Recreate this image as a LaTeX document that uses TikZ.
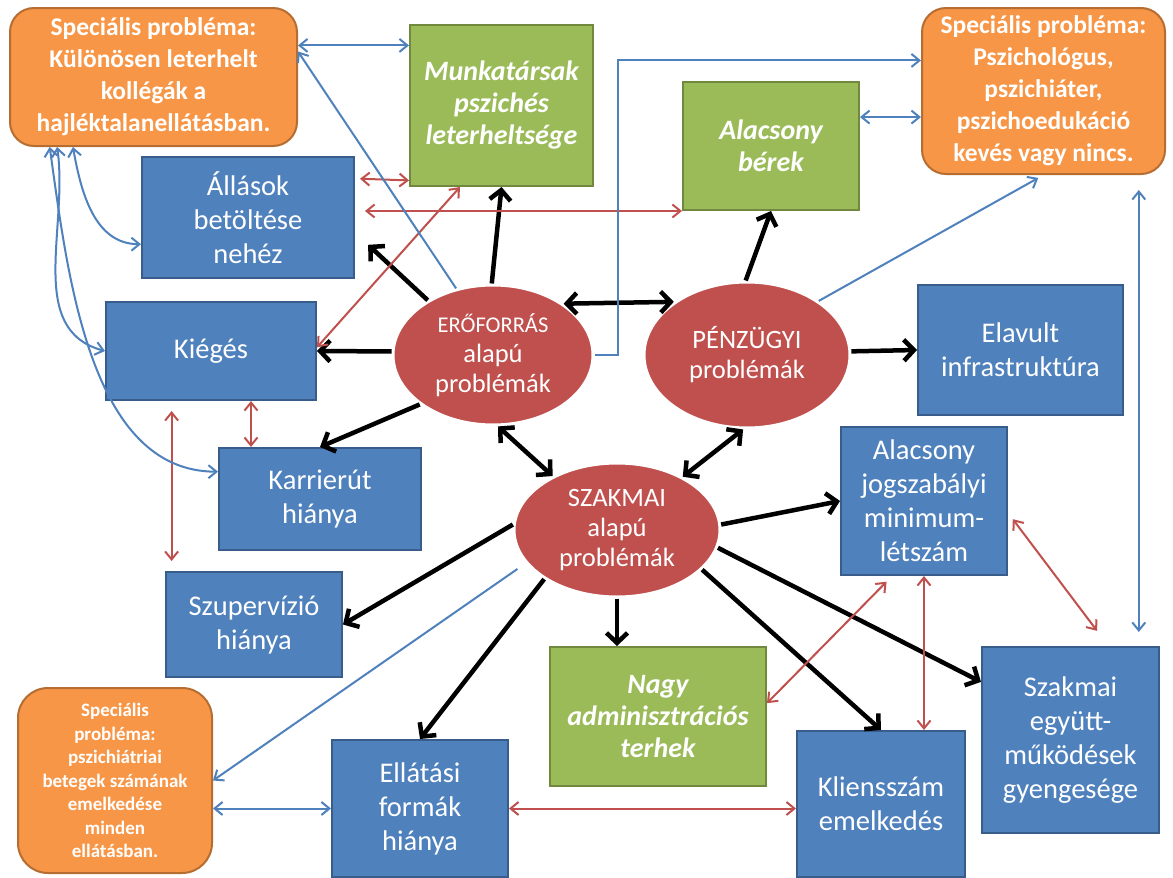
\documentclass[tikz,border=0pt]{standalone}
\usepackage{fontspec}
\setmainfont{Carlito}
\usetikzlibrary{arrows.meta, shapes.geometric}

\definecolor{boxblue}{HTML}{4F81BD}
\definecolor{boxblueline}{HTML}{385D8A}
\definecolor{boxgreen}{HTML}{9BBB59}
\definecolor{boxgreenline}{HTML}{71893F}
\definecolor{boxorange}{HTML}{F79646}
\definecolor{boxorangeline}{HTML}{B66D31}
\definecolor{ovalred}{HTML}{C0504D}

\begin{document}
\begin{tikzpicture}[x=1pt, y=-1pt,
    bluebox/.style={draw=boxblueline, fill=boxblue, line width=2pt, text=white,
        align=center, inner sep=0pt, font=\fontsize{28.5}{34}\selectfont},
    greenbox/.style={bluebox, draw=boxgreenline, fill=boxgreen,
        font=\fontsize{28}{32}\selectfont\bfseries\itshape},
    orangebox/.style={bluebox, draw=boxorangeline, fill=boxorange, rounded corners=24pt,
        font=\fontsize{25.5}{32}\selectfont\bfseries},
    redoval/.style={ellipse, draw=white, fill=ovalred, line width=3pt, text=white,
        align=center, inner sep=0pt, font=\fontsize{26.5}{30}\selectfont},
    main/.style={line width=4.5pt, -{Straight Barb[length=10pt,width=21pt]}},
    both/.style={main, {Straight Barb[length=10pt,width=21pt]}-{Straight Barb[length=10pt,width=21pt]}},
    relred/.style={ovalred, line width=2pt,
        {Straight Barb[length=8pt,width=13pt]}-{Straight Barb[length=8pt,width=13pt]}},
    relblue/.style={relred, boxblue},
    oneblue/.style={boxblue, line width=2pt, -{Straight Barb[length=8pt,width=13pt]}}
]

% canvas
\fill[white] (0,0) rectangle (1173,878);
\useasboundingbox (0,0) rectangle (1173,878);

% =========================
% special problems
% =========================
\node[orangebox, minimum width=287pt, minimum height=138pt] (spec1) at (153.5,77)
    {Speciális probléma:\\Különösen leterhelt\\kollégák a\\hajléktalanellátásban.};
\node[orangebox, minimum width=243pt, minimum height=166pt] (spec2) at (1043.5,91)
    {Speciális probléma:\\Pszichológus,\\pszichiáter,\\pszichoedukáció\\kevés vagy nincs.};
\node[orangebox, rounded corners=30pt, minimum width=194pt, minimum height=185pt,
    font=\fontsize{19}{23.5}\selectfont\bfseries] (spec3) at (115,780.5)
    {Speciális\\probléma:\\pszichiátriai\\betegek számának\\emelkedése\\minden\\ellátásban.};

% =========================
% green boxes
% =========================
\node[greenbox, minimum width=183pt, minimum height=161pt] (staff) at (501.5,105.5)
    {Munkatársak\\pszichés\\leterheltsége};
\node[greenbox, minimum width=176pt, minimum height=128pt] (wages) at (771,146)
    {Alacsony\\bérek};
\node[greenbox, minimum width=216pt, minimum height=139pt] (admin) at (658,716.5)
    {Nagy\\adminisztrációs\\terhek};

% =========================
% blue boxes
% =========================
\node[bluebox, minimum width=212pt, minimum height=121pt] (jobs) at (248,217.5)
    {Állások\\betöltése\\nehéz};
\node[bluebox, minimum width=210pt, minimum height=98pt] (burnout) at (211,351) {Kiégés};
\node[bluebox, minimum width=205pt, minimum height=130pt] (infra) at (1020.5,350)
    {Elavult\\infrastruktúra};
\node[bluebox, minimum width=202pt, minimum height=102pt] (career) at (320,499)
    {Karrierút\\hiánya};
\node[bluebox, minimum width=166pt, minimum height=148pt] (minimum) at (924,501)
    {Alacsony\\jogszabályi\\minimum-\\létszám};
\node[bluebox, minimum width=176pt, minimum height=105pt] (supervision) at (254,624.5)
    {Szupervízió\\hiánya};
\node[bluebox, minimum width=177pt, minimum height=186pt] (cooperation) at (1070.5,740)
    {Szakmai\\együtt-\\működések\\gyengesége};
\node[bluebox, minimum width=176pt, minimum height=137pt] (services) at (420,808.5)
    {Ellátási\\formák\\hiánya};
\node[bluebox, minimum width=168pt, minimum height=146pt] (clients) at (881,804)
    {Kliensszám\\emelkedés};

% =========================
% problem groups
% =========================
\node[redoval, minimum width=200pt, minimum height=140pt] (resource) at (493,355)
    {{\fontsize{22.5}{30}\selectfont ERŐFORRÁS}\\alapú\\problémák};
\node[redoval, minimum width=206pt, minimum height=146pt] (finance) at (747,355)
    {PÉNZÜGYI\\problémák};
\node[redoval, minimum width=206pt, minimum height=134pt] (professional) at (617,530)
    {SZAKMAI\\alapú\\problémák};

% black arrows
\draw[main, shorten >=18pt] (resource.140) -- (jobs.-8);
\draw[main] (resource.91) -- (staff.south);
\draw[both] (resource.36) -- (finance.144);
\draw[main] (resource.178) -- (burnout.east);
\draw[main] (resource.214) -- (career.north);
\draw[both] (resource.-86) -- (professional.140);
\draw[main] (finance.91) -- (wages.south);
\draw[main] (finance.2) -- (infra.west);
\draw[both] (finance.-93) -- (professional.39);
\draw[main] (professional.3) -- (minimum.west);
\draw[main] (professional.177) -- (supervision.east);
\draw[main] (professional.south) -- (professional.south |- admin.north);
\draw[main] (professional.214) -- (services.north);
\draw[main] (professional.-25) -- (clients.north);
\draw[main] (professional.-10) -- (cooperation.147);

% red links
\draw[relred, shorten <=5pt] (jobs.20) -- (staff.219);
\draw[relred, shorten <=10pt] (jobs.east |- wages.south west) -- (wages.south west);
\draw[relred] (burnout.2) -- (staff.243);
\draw[relred] (career.143) -- (career.143 |- burnout.south);
\draw[relred, shorten <=10pt, shorten >=10pt] (supervision.147) -- (supervision.147 |- burnout.south);
\draw[relred] (services.east) -- (services.east -| clients.west);
\draw[relred, shorten >=8pt] (admin.7) -- (minimum.247);
\draw[relred] (minimum.south) -- (minimum.south |- clients.north);
\draw[relred, shorten <=8pt, shorten >=19pt] (minimum.-8) -- (cooperation.68);

% blue links
\draw[relblue] (staff.147) -- (staff.147 -| spec1.east);
\draw[oneblue] (resource.119) -- (spec1.10);
\draw[oneblue] (resource.east) -- ++(23,0) |- (spec2.166);
\draw[relblue] (wages.18) -- (wages.18 -| spec2.west);
\draw[oneblue, shorten >=6pt] (finance.37) -- (spec2.south);
\draw[relblue, shorten <=14pt, shorten >=15pt] (cooperation.54) -- (cooperation.54 |- spec2.south);
\draw[relblue] (spec1.221) to[out=-80, in=180] (jobs.194);
\draw[relblue] (spec1.216) to[out=-82, in=165] (burnout.west);
\draw[relblue] (spec1.214) to[out=-82, in=180, looseness=0.9] (career.165);
\draw[oneblue, shorten <=10pt] (professional.200) -- (spec3.east);
\draw[relblue] (services.west) -- (services.west -| spec3.east);

\end{tikzpicture}
\end{document}
